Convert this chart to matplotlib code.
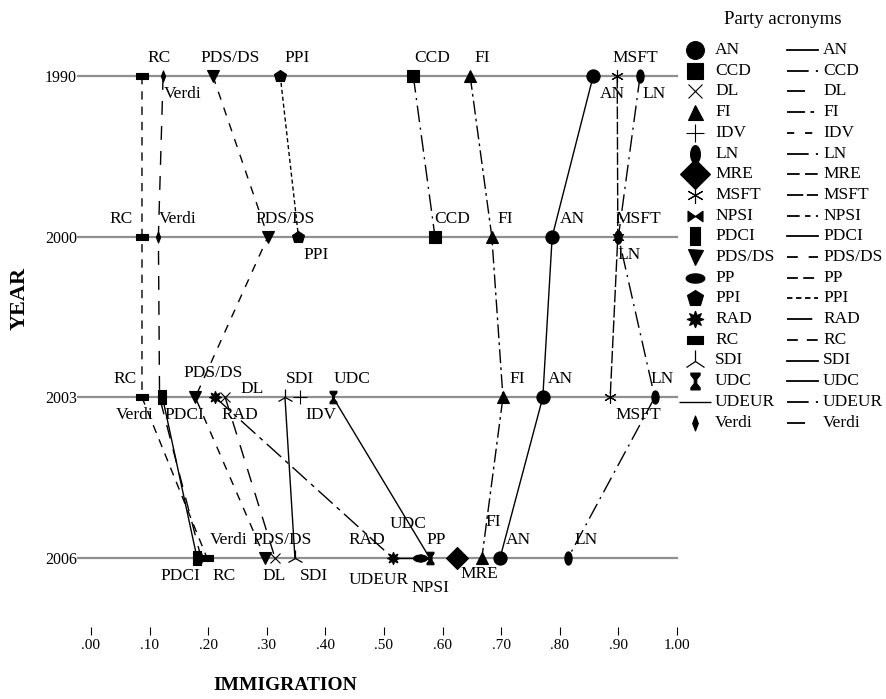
import numpy as np
import matplotlib
matplotlib.use("Agg")
import matplotlib.pyplot as plt
from matplotlib.path import Path

plt.rcParams['font.family'] = ['Liberation Serif', 'DejaVu Serif']

# ---------------- data ----------------
years = ['1990', '2000', '2003', '2006']
parties = ['AN', 'CCD', 'DL', 'FI', 'IDV', 'LN', 'MRE', 'MSFT', 'NPSI', 'PDCI',
           'PDS/DS', 'PP', 'PPI', 'RAD', 'RC', 'SDI', 'UDC', 'UDEUR', 'Verdi']
AN = [0.857, 0.787, 0.771, 0.698]
CCD = [0.550, 0.587, None, None]
DL = [None, None, 0.229, 0.314]
FI = [0.647, 0.684, 0.703, 0.667]
IDV = [None, None, 0.357, None]
LN = [0.937, 0.900, 0.962, 0.814]
MRE = [None, None, None, 0.624]
MSFT = [0.898, 0.899, 0.886, None]
NPSI = [None, None, None, 0.572]
PDCI = [None, None, 0.122, 0.181]
PDS_DS = [0.208, 0.302, 0.178, 0.297]
PP = [None, None, None, 0.562]
PPI = [0.323, 0.354, None, None]
RAD = [None, None, 0.212, 0.515]
RC = [0.087, 0.087, 0.087, 0.198]
SDI = [None, None, 0.331, 0.348]
UDC = [None, None, 0.413, 0.578]
UDEUR = [None, None, None, 0.535]
Verdi = [0.123, 0.115, 0.117, 0.188]
xticks = [0.0, 0.1, 0.2, 0.3, 0.4, 0.5, 0.6, 0.7, 0.8, 0.9, 1.0]
xticklabels = ['.00', '.10', '.20', '.30', '.40', '.50', '.60', '.70', '.80', '.90', '1.00']

values = {'AN': AN, 'CCD': CCD, 'DL': DL, 'FI': FI, 'IDV': IDV, 'LN': LN, 'MRE': MRE,
          'MSFT': MSFT, 'NPSI': NPSI, 'PDCI': PDCI, 'PDS/DS': PDS_DS, 'PP': PP,
          'PPI': PPI, 'RAD': RAD, 'RC': RC, 'SDI': SDI, 'UDC': UDC, 'UDEUR': UDEUR,
          'Verdi': Verdi}

# ---------------- styles ----------------
def ell(rx, ry):
    t = np.linspace(0, 2 * np.pi, 41)
    return Path(np.column_stack([rx * np.cos(t), ry * np.sin(t)]), closed=True)

def poly(pts):
    pts = list(pts) + [pts[0]]
    return Path(pts, closed=True)

ellipse_v = ell(0.55, 1.0)
ellipse_h = ell(1.0, 0.5)
rect_v = poly([(-0.55, -1), (0.55, -1), (0.55, 1), (-0.55, 1)])
rect_h = poly([(-1, -0.5), (1, -0.5), (1, 0.5), (-1, 0.5)])
bowtie = Path([(-1, 0.7), (0, 0), (-1, -0.7), (-1, 0.7), (1, 0.7), (0, 0), (1, -0.7), (1, 0.7)],
              [Path.MOVETO, Path.LINETO, Path.LINETO, Path.CLOSEPOLY,
               Path.MOVETO, Path.LINETO, Path.LINETO, Path.CLOSEPOLY])
hourglass = poly([(-0.55, 1), (0.55, 1), (0.55, 0.75), (0.15, 0.25), (0.15, -0.25),
                  (0.55, -0.75), (0.55, -1), (-0.55, -1), (-0.55, -0.75), (-0.15, -0.25),
                  (-0.15, 0.25), (-0.55, 0.75)])
diamond_n = poly([(0, 1), (0.38, 0), (0, -1), (-0.38, 0)])

markers = {
    'AN': ('o', 9.5, 0.8), 'CCD': ('s', 9, 0.8), 'DL': ('x', 7, 0.8), 'FI': ('^', 8, 0.8),
    'IDV': ('+', 10, 0.8), 'LN': (ellipse_v, 9.5, 0.8), 'MRE': ('D', 11, 0.8),
    'MSFT': ((6, 2, 0), 9, 0.8), 'NPSI': (bowtie, 8, 0.8), 'PDCI': (rect_v, 10, 0.8),
    'PDS/DS': ('v', 8, 0.8), 'PP': (ellipse_h, 10, 0.8), 'PPI': ('p', 9, 0.8),
    'RAD': ((8, 1, 0), 9, 0.8), 'RC': (rect_h, 9, 0.8), 'SDI': ('2', 12, 0.9),
    'UDC': (hourglass, 9, 0.8), 'UDEUR': ('_', 23, 1.0), 'Verdi': (diamond_n, 8, 0.8),
}
legend_scale = {p: 1.35 for p in parties}
legend_scale['UDEUR'] = 1.0
linestyles = {
    'AN': '-', 'CCD': (0, (12, 4, 1.5, 4)), 'DL': (0, (10, 8)), 'FI': (0, (10, 3, 2, 3)),
    'IDV': (0, (4, 6)), 'LN': (0, (12, 4, 1.5, 4)), 'MRE': (0, (7, 3)), 'MSFT': (0, (9, 2)),
    'NPSI': (0, (7, 3, 3, 3)), 'PDCI': '-', 'PDS/DS': (0, (6, 6)), 'PP': (0, (6, 3)),
    'PPI': (0, (3, 2)), 'RAD': (0, (14, 4, 3, 4)), 'RC': (0, (6, 5)), 'SDI': '-',
    'UDC': '-', 'UDEUR': (0, (12, 4, 1.5, 4)), 'Verdi': (0, (10, 8)),
}

# label placement: (party, year index) -> (dx px, dy px), dy positive = up
A, B = 18, -18
label_pos = {
    ('RC', 0): (17, A), ('Verdi', 0): (20, B), ('PDS/DS', 0): (17, A), ('PPI', 0): (17, A),
    ('CCD', 0): (19, A), ('FI', 0): (12, A), ('AN', 0): (19, B), ('MSFT', 0): (18, A),
    ('LN', 0): (14, B),
    ('RC', 1): (-21, A), ('Verdi', 1): (19, A), ('PDS/DS', 1): (17, A), ('PPI', 1): (18, B),
    ('CCD', 1): (17, A), ('FI', 1): (13, A), ('AN', 1): (20, A), ('MSFT', 1): (20, A),
    ('LN', 1): (11, B),
    ('RC', 2): (-17, A), ('Verdi', 2): (-25, B), ('PDCI', 2): (22, B), ('PDS/DS', 2): (18, A + 6),
    ('RAD', 2): (25, B), ('DL', 2): (27, 8), ('SDI', 2): (15, A), ('IDV', 2): (21, B),
    ('UDC', 2): (19, A), ('FI', 2): (14, A), ('AN', 2): (18, A), ('MSFT', 2): (28, B),
    ('LN', 2): (7, A),
    ('PDCI', 3): (-17, B), ('Verdi', 3): (28, A), ('RC', 3): (17, B), ('PDS/DS', 3): (17, A),
    ('DL', 3): (-1, B), ('SDI', 3): (19, B), ('RAD', 3): (-26, A), ('UDEUR', 3): (-26, -22),
    ('UDC', 3): (-22, 34), ('PP', 3): (16, A), ('NPSI', 3): (4, -30), ('MRE', 3): (23, -16),
    ('FI', 3): (11, 36), ('AN', 3): (18, A), ('LN', 3): (18, A),
}

# ---------------- figure ----------------
W, H = 887, 699
fig = plt.figure(figsize=(W / 100, H / 100), dpi=100)
top_px, bot_px, left_px, right_px = 30, 627, 91, 677
ax = fig.add_axes([left_px / W, 1 - bot_px / H, (right_px - left_px) / W, (bot_px - top_px) / H])
ax.set_xlim(0, 1)
y0, dy = 76, 160.67
ax.set_ylim((bot_px - y0) / dy, (top_px - y0) / dy)
for s in ax.spines.values():
    s.set_visible(False)
ax.set_xticks(xticks)
ax.set_xticklabels(xticklabels, fontsize=11)
ax.tick_params(axis='x', direction='out', length=5.8, width=0.8, pad=2.5, color='black')
ax.set_yticks(range(len(years)))
ax.set_yticklabels(years, fontsize=11.5)
ax.tick_params(axis='y', length=0, pad=10)

# year lines
for i in range(len(years)):
    ax.plot([-0.022, 1.0], [i, i], color='#8f8f8f', lw=1.6, clip_on=False, zorder=1)

# party lines & markers
for p in parties:
    v = values[p]
    xs = [x for x in v if x is not None]
    ys = [i for i, x in enumerate(v) if x is not None]
    if len(xs) > 1:
        ax.plot(xs, ys, color='black', lw=1.0, linestyle=linestyles[p], zorder=2, clip_on=False)
    m, ms, mew = markers[p]
    ax.plot(xs, ys, linestyle='none', marker=m, markersize=ms, color='black',
            markeredgewidth=mew, zorder=3, clip_on=False)
    for i, x in zip(ys, xs):
        dxp, dyp = label_pos.get((p, i), (17, A))
        ax.annotate(p, (x, i), xytext=(dxp, dyp), textcoords='offset pixels',
                    ha='center', va='center', fontsize=12.5, zorder=4)

# axis titles
fig.text(285 / W, 1 - 686 / H, 'IMMIGRATION', ha='center', va='center',
         fontsize=14, fontweight='bold')
fig.text(20 / W, 1 - 298 / H, 'YEAR', ha='center', va='center', rotation=90,
         fontsize=16, fontweight='bold')

# ---------------- legend ----------------
lg = fig.add_axes([0, 0, 1, 1], zorder=5)
lg.set_xlim(0, W)
lg.set_ylim(H, 0)
lg.axis('off')
lg.patch.set_alpha(0)
lg.text(783, 20, 'Party acronyms', ha='center', va='center', fontsize=13.5)
for k, p in enumerate(parties):
    yy = 50 + 20.7 * k
    m, ms, mew = markers[p]
    lg.plot([695], [yy], linestyle='none', marker=m, markersize=ms * legend_scale[p],
            color='black', markeredgewidth=mew)
    lg.text(715, yy, p, ha='left', va='center', fontsize=12.5)
    lg.plot([787, 818], [yy, yy], color='black', lw=1.3, linestyle=linestyles[p])
    lg.text(823, yy, p, ha='left', va='center', fontsize=12.5)

fig.savefig('out.png', dpi=100)
